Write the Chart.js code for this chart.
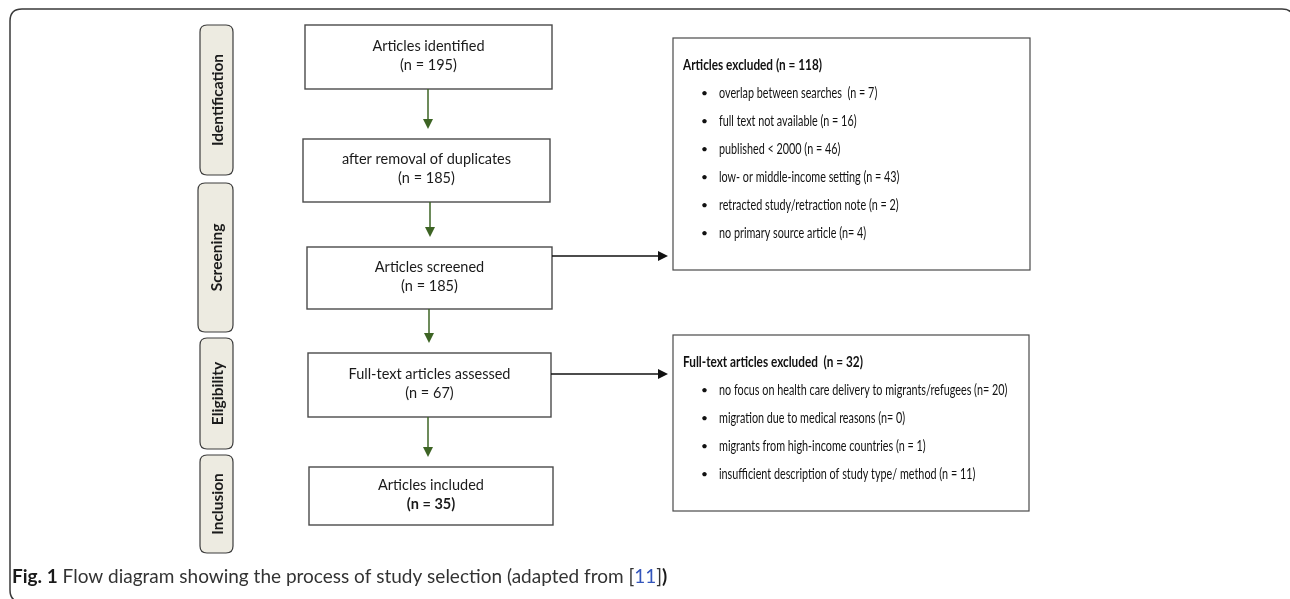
<!DOCTYPE html>
<html><head><meta charset="utf-8">
<script src="https://cdn.jsdelivr.net/npm/chart.js@4"></script>
<style>html,body{margin:0;padding:0;background:#fff;overflow:hidden}#wrap{width:1290px;height:599px;position:relative}</style>
</head><body><div id="wrap"><canvas id="c"></canvas></div>
<script>
// ---- data ----
const stages = ["Identification", "Screening", "Eligibility", "Inclusion"];
const stepLabels = ["Articles identified", "after removal of duplicates", "Articles screened", "Full-text articles assessed", "Articles included"];
const stepCounts = [195, 185, 185, 67, 35];
const exclusionTitles = ["Articles excluded", "Full-text articles excluded "];
const exclusionTotals = [118, 32];
const screenReasons = ["overlap between searches ", "full text not available", "published < 2000", "low- or middle-income setting", "retracted study/retraction note", "no primary source article"];
const screenCounts = [7, 16, 46, 43, 2, 4];
const screenEq = ["n = ", "n = ", "n = ", "n = ", "n = ", "n= "];
const eligReasons = ["no focus on health care delivery to migrants/refugees", "migration due to medical reasons", "migrants from high-income countries", "insufficient description of study type/ method"];
const eligCounts = [20, 0, 1, 11];
const eligEq = ["n= ", "n= ", "n = ", "n = "];
const captionBold = "Fig. 1";
const captionText = " Flow diagram showing the process of study selection (adapted from [";
const captionRef = "11";

// ---- layout (diagram units) ----
const layout = {
  frame: [10, 9, 1294, 602],
  stageBoxes: [[200, 25, 233, 175], [198, 183, 233, 332], [200, 338, 233, 449], [200, 455, 233, 553]],
  stepBoxes: [[305, 25, 552, 89], [303, 139, 550, 202], [307, 247, 552, 309], [308, 353, 551, 417], [309, 467, 553, 525]],
  arrowX: [428, 430, 429, 428],
  exclBoxes: [[673, 38, 1030, 270], [673, 335, 1029, 511]],
  exclFrom: [2, 3],
  exclArrowY: [256, 374],
  exclArrowEnd: 668,
  exclTitleY: [65, 362],
  exclLineStep: 28,
  captionY: 577
};

const diagramPlugin = {
  id: 'flow',
  afterDraw(chart) {
    const ctx = chart.ctx, xs = chart.scales.x, ys = chart.scales.y;
    const X = v => xs.getPixelForValue(v), Y = v => ys.getPixelForValue(v);
    function rrect(b, r) {
      const x0 = X(b[0]), y0 = Y(b[1]), x1 = X(b[2]), y1 = Y(b[3]);
      ctx.beginPath();
      ctx.moveTo(x0 + r, y0); ctx.lineTo(x1 - r, y0); ctx.quadraticCurveTo(x1, y0, x1, y0 + r);
      ctx.lineTo(x1, y1 - r); ctx.quadraticCurveTo(x1, y1, x1 - r, y1);
      ctx.lineTo(x0 + r, y1); ctx.quadraticCurveTo(x0, y1, x0, y1 - r);
      ctx.lineTo(x0, y0 + r); ctx.quadraticCurveTo(x0, y0, x0 + r, y0);
      ctx.closePath();
    }
    function arrow(x0, y0, x1, y1, color) {
      const px0 = X(x0), py0 = Y(y0), px1 = X(x1), py1 = Y(y1);
      const ang = Math.atan2(py1 - py0, px1 - px0), L = 10, W = 5;
      ctx.strokeStyle = color; ctx.fillStyle = color; ctx.lineWidth = 1.5;
      ctx.beginPath(); ctx.moveTo(px0, py0);
      ctx.lineTo(px1 - Math.cos(ang) * L, py1 - Math.sin(ang) * L); ctx.stroke();
      ctx.beginPath();
      ctx.moveTo(px1, py1);
      ctx.lineTo(px1 - Math.cos(ang) * L - Math.sin(ang) * W, py1 - Math.sin(ang) * L + Math.cos(ang) * W);
      ctx.lineTo(px1 - Math.cos(ang) * L + Math.sin(ang) * W, py1 - Math.sin(ang) * L - Math.cos(ang) * W);
      ctx.closePath(); ctx.fill();
    }
    ctx.save();
    // outer frame
    rrect(layout.frame, 12);
    ctx.strokeStyle = '#3a3a3a'; ctx.lineWidth = 1.5; ctx.stroke();

    // stage labels
    stages.forEach((s, i) => {
      const b = layout.stageBoxes[i];
      rrect(b, 7);
      ctx.fillStyle = '#edebe1'; ctx.fill();
      ctx.strokeStyle = '#3c3c3c'; ctx.lineWidth = 1.2; ctx.stroke();
      ctx.save();
      ctx.translate((X(b[0]) + X(b[2])) / 2 + 1, (Y(b[1]) + Y(b[3])) / 2);
      ctx.rotate(-Math.PI / 2);
      ctx.fillStyle = '#1a1a1a';
      ctx.font = 'bold 15.5px Lato';
      ctx.textAlign = 'center'; ctx.textBaseline = 'middle';
      ctx.fillText(s, 0, 0);
      ctx.restore();
    });

    // step boxes
    stepLabels.forEach((s, i) => {
      const b = layout.stepBoxes[i];
      ctx.fillStyle = '#fff';
      ctx.fillRect(X(b[0]), Y(b[1]), X(b[2]) - X(b[0]), Y(b[3]) - Y(b[1]));
      ctx.strokeStyle = '#4a4a4a'; ctx.lineWidth = 1.4;
      ctx.strokeRect(X(b[0]), Y(b[1]), X(b[2]) - X(b[0]), Y(b[3]) - Y(b[1]));
      const cx = (X(b[0]) + X(b[2])) / 2, cy = (Y(b[1]) + Y(b[3])) / 2;
      ctx.fillStyle = '#1a1a1a'; ctx.textAlign = 'center'; ctx.textBaseline = 'middle';
      ctx.font = '14.5px Lato';
      ctx.fillText(s, cx, cy - 11);
      ctx.font = (i === stepLabels.length - 1 ? 'bold ' : '') + '14.5px Lato';
      ctx.fillText('(n = ' + stepCounts[i] + ')', cx, cy + 8);
    });

    // vertical arrows
    layout.arrowX.forEach((ax, i) => {
      arrow(ax, layout.stepBoxes[i][3], ax, layout.stepBoxes[i + 1][1] - 10, '#3d6424');
    });

    // exclusion boxes
    const reasonsSets = [[screenReasons, screenCounts, screenEq], [eligReasons, eligCounts, eligEq]];
    exclusionTitles.forEach((t, i) => {
      const b = layout.exclBoxes[i];
      const from = layout.stepBoxes[layout.exclFrom[i]];
      arrow(from[2], layout.exclArrowY[i], layout.exclArrowEnd, layout.exclArrowY[i], '#111');
      ctx.strokeStyle = '#4a4a4a'; ctx.lineWidth = 1.2;
      ctx.strokeRect(X(b[0]), Y(b[1]), X(b[2]) - X(b[0]), Y(b[3]) - Y(b[1]));
      const lx = X(b[0]) + 10;
      ctx.textAlign = 'left'; ctx.textBaseline = 'middle'; ctx.fillStyle = '#111';
      ctx.save(); ctx.translate(lx, Y(layout.exclTitleY[i])); ctx.scale(0.785, 1);
      ctx.font = 'bold 15px Lato';
      ctx.fillText(t + ' (n = ' + exclusionTotals[i] + ')', 0, 0);
      ctx.restore();
      const [rs, cs, eq] = reasonsSets[i];
      rs.forEach((r, j) => {
        const y = Y(layout.exclTitleY[i] + (j + 1) * layout.exclLineStep);
        ctx.font = '12px Lato';
        ctx.fillText('\u2022', X(b[0]) + 28, y);
        ctx.save(); ctx.translate(X(b[0]) + 46, y); ctx.scale(0.72, 1);
        ctx.font = '15px Lato';
        ctx.fillText(r + ' (' + eq[j] + cs[j] + ')', 0, 0);
        ctx.restore();
      });
    });

    // caption
    ctx.textAlign = 'left'; ctx.textBaseline = 'middle';
    let cx = X(12); const cy = Y(layout.captionY);
    ctx.font = 'bold 19px Lato'; ctx.fillStyle = '#1a1a1a';
    ctx.fillText(captionBold, cx, cy); cx += ctx.measureText(captionBold).width;
    ctx.font = '19px Lato'; ctx.fillStyle = '#333';
    ctx.fillText(captionText, cx, cy); cx += ctx.measureText(captionText).width;
    ctx.fillStyle = '#3355bb'; ctx.fillText(captionRef, cx, cy); cx += ctx.measureText(captionRef).width;
    ctx.fillStyle = '#333'; ctx.fillText(']', cx, cy); cx += ctx.measureText(']').width;
    ctx.font = 'bold 19px Lato'; ctx.fillStyle = '#1a1a1a'; ctx.fillText(')', cx, cy);
    ctx.restore();
  }
};

new Chart(document.getElementById('c'), {
  type: 'scatter',
  data: { datasets: [{ data: [] }] },
  options: {
    responsive: true, maintainAspectRatio: false, animation: false,
    layout: { padding: 0 },
    plugins: { legend: { display: false }, tooltip: { enabled: false } },
    scales: {
      x: { type: 'linear', min: 0, max: 1290, display: false },
      y: { type: 'linear', min: 0, max: 599, reverse: true, display: false }
    }
  },
  plugins: [diagramPlugin]
});
</script></body></html>
